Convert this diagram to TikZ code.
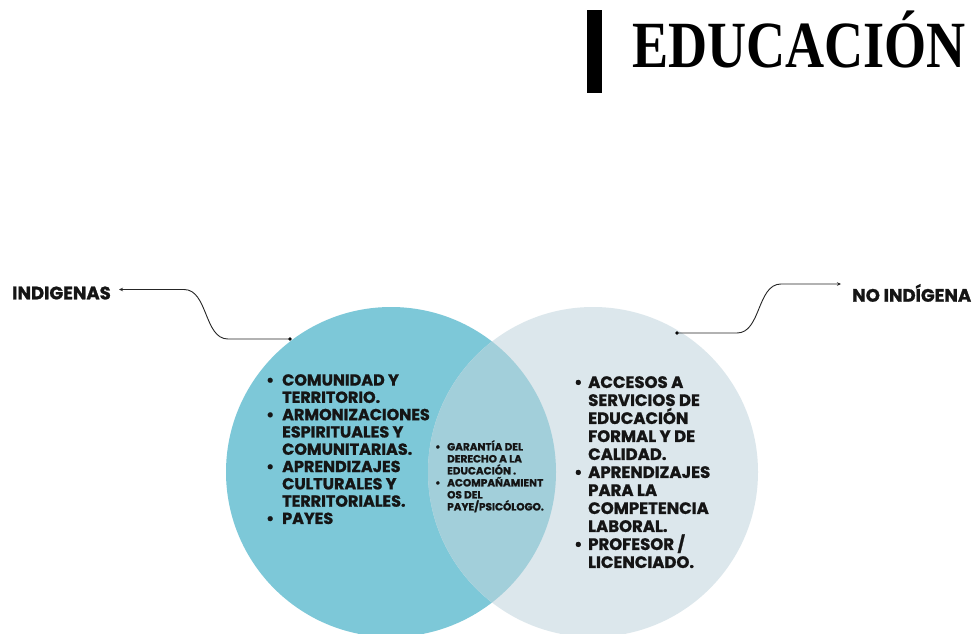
\documentclass[tikz,border=0pt]{standalone}
\usepackage{fontspec}
\usetikzlibrary{arrows.meta}
\newfontfamily\pop{Poppins}[BoldFeatures={FakeBold=1.2}]
\newfontfamily\titlefont{Liberation Serif}
\definecolor{cL}{HTML}{7DC8D8}
\definecolor{cR}{HTML}{DCE7EC}
\definecolor{cO}{HTML}{A2CFDA}
\definecolor{txt}{HTML}{151515}
\newcommand{\bulL}{\makebox[16pt][l]{\textbullet}}
\newcommand{\bulR}{\makebox[14pt][l]{\textbullet}}
\newcommand{\bulC}{\makebox[12pt][l]{\textbullet}}
\newcommand{\indL}{\hspace*{16pt}}
\newcommand{\indR}{\hspace*{14pt}}
\newcommand{\indC}{\hspace*{12pt}}
\newcommand{\nolskip}{\lineskiplimit=-100pt\relax}
\tikzset{
  venn/.style={circle, minimum size=330pt, inner sep=0pt, outer sep=0pt, draw=none},
  listtext/.style={anchor=north west, inner sep=0pt, align=left, text=txt},
  label/.style={inner sep=0pt, text=txt, font=\pop\bfseries\fontsize{18}{18}\selectfont},
  conn/.style={draw=black!85, line width=0.9pt, -{Stealth[length=4pt,width=3.5pt]}},
  dotmark/.style={circle, fill=black, inner sep=0pt, minimum size=3.6pt}
}
\begin{document}
\begin{tikzpicture}[x=1pt,y=-1pt]
\useasboundingbox (0,0) rectangle (974,634);
\fill[white] (0,0) rectangle (974,634);
% Venn circles
\node[venn, fill=cL] (L) at (391,472) {};
\node[venn, fill=cR] (R) at (593,472) {};
\begin{scope}
  \clip (391,472) circle (165);
  \fill[cO] (593,472) circle (165);
\end{scope}
% Title
\fill[black] (587,10) rectangle (602,93);
\node[anchor=base west, inner sep=0pt, text=black] (title) at (632,67)
  {\titlefont\bfseries\fontsize{66}{66}\selectfont\scalebox{0.82}[1]{EDUCACIÓN}};
% Labels
\node[label, anchor=west] (ind) at (12,293) {INDIGENAS};
\node[label, anchor=west] (noind) at (852,293) {NO INDÍGENA};
% connectors
\node[dotmark] (dL) at (290,339) {};
\node[dotmark] (dR) at (677,333) {};
\coordinate (tipL) at (119,289.5);
\coordinate (tipR) at (841,284);
\draw[conn] (dL.center) -- (228,339) .. controls (204,339) and (208,289.5) .. (184,289.5) -- (tipL);
\draw[conn] (dR.center) -- (737,333) .. controls (761,333) and (757,284) .. (781,284) -- (tipR);
% Left list
\node[listtext, font=\pop\bfseries\fontsize{16}{17.3}\selectfont\nolskip] (listL) at (266,374) {%
\bulL COMUNIDAD Y\\
\indL TERRITORIO.\\
\bulL ARMONIZACIONES\\
\indL ESPIRITUALES Y\\
\indL COMUNITARIAS.\\
\bulL APRENDIZAJES\\
\indL CULTURALES Y\\
\indL TERRITORIALES.\\
\bulL PAYES};
% Center list
\node[listtext, font=\pop\bfseries\fontsize{10.5}{12}\selectfont\nolskip] (listC) at (435,440) {%
\bulC GARANTÍA DEL\\
\indC DERECHO A LA\\
\indC EDUCACIÓN .\\
\bulC ACOMPAÑAMIENT\\
\indC OS DEL\\
\indC PAYE/PSICÓLOGO.};
% Right list
\node[listtext, font=\pop\bfseries\fontsize{16.5}{18}\selectfont\nolskip] (listR) at (574,376) {%
\bulR ACCESOS A\\
\indR SERVICIOS DE\\
\indR EDUCACIÓN\\
\indR FORMAL Y DE\\
\indR CALIDAD.\\
\bulR APRENDIZAJES\\
\indR PARA LA\\
\indR COMPETENCIA\\
\indR LABORAL.\\
\bulR PROFESOR /\\
\indR LICENCIADO.};
\end{tikzpicture}
\end{document}
